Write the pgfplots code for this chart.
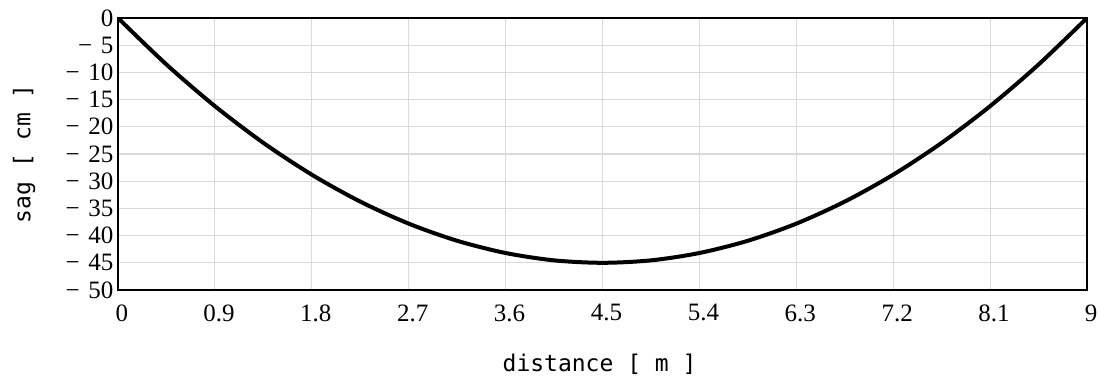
\documentclass[border=0pt]{standalone}
\usepackage{pgfplots}
\pgfplotsset{compat=1.18}
\usepackage{fontspec}
\setmainfont{Liberation Serif}
\newfontfamily\labfont{DejaVu Sans Mono}
\newcommand{\m}{−\hspace{0.35em}}
\begin{document}
\begin{tikzpicture}
\begin{axis}[
  at={(0,0)}, anchor=south west,
  scale only axis, width=969pt, height=272pt,
  xmin=0, xmax=9, ymin=-50, ymax=0,
  xtick={0,0.9,1.8,2.7,3.6,4.5,5.4,6.3,7.2,8.1,9},
  xticklabels={0,0.9,1.8,2.7,3.6,4.5,5.4,6.3,7.2,8.1,9},
  ytick={-50,-45,-40,-35,-30,-25,-20,-15,-10,-5,0},
  yticklabels={\m50,\m45,\m40,\m35,\m30,\m25,\m20,\m15,\m10,\m5,0},
  major tick length=0pt,
  grid=major,
  major grid style={line width=1.2pt, color=black!15},
  axis line style={line width=1.5pt},
  tick label style={font=\fontsize{25}{27}\selectfont},
  xticklabel style={yshift=-11pt, xshift=4pt},
  yticklabel style={xshift=-1pt},
  xlabel={distance [ m ]},
  ylabel={sag [ cm ]},
  label style={font=\labfont\fontsize{23}{25}\selectfont},
  xlabel style={at={(axis description cs:0.497,-0.272)}, anchor=center},
  ylabel style={at={(axis description cs:-0.097,0.5)}, anchor=center},
]
\addplot[black, line width=4pt, smooth] coordinates {
 (0,0) (0.45,-8.55) (0.9,-16.2) (1.35,-22.95) (1.8,-28.8) (2.25,-33.75)
 (2.7,-37.8) (3.15,-40.95) (3.6,-43.2) (4.05,-44.55) (4.5,-45)
 (4.95,-44.55) (5.4,-43.2) (5.85,-40.95) (6.3,-37.8) (6.75,-33.75)
 (7.2,-28.8) (7.65,-22.95) (8.1,-16.2) (8.55,-8.55) (9,0)
};
\end{axis}
\pgfresetboundingbox
\useasboundingbox (-118pt,-90pt) rectangle (982pt,290pt);
\end{tikzpicture}
\end{document}
